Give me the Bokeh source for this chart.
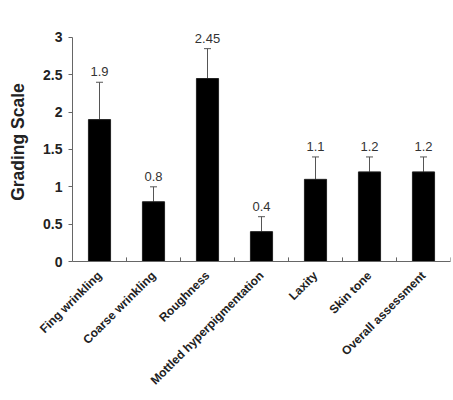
from math import pi
from bokeh.plotting import figure
from bokeh.core.properties import value
from bokeh.models import ColumnDataSource, Range1d, FixedTicker, Whisker, TeeHead, LabelSet
from bokeh.embed import file_html
from bokeh.resources import INLINE

# data
categories = ["Fing wrinkling", "Coarse wrinkling", "Roughness", "Mottled hyperpigmentation",
              "Laxity", "Skin tone", "Overall assessment"]
means = [1.9, 0.8, 2.45, 0.4, 1.1, 1.2, 1.2]
errors = [0.5, 0.2, 0.4, 0.2, 0.3, 0.2, 0.2]
value_labels = ["1.9", "0.8", "2.45", "0.4", "1.1", "1.2", "1.2"]
y_ticks = [0, 0.5, 1, 1.5, 2, 2.5, 3]
y_tick_labels = ["0", "0.5", "1", "1.5", "2", "2.5", "3"]

centers = [i + 0.5 for i in range(len(categories))]
source = ColumnDataSource(data=dict(
    x=centers,
    mean=means,
    upper=[m + e for m, e in zip(means, errors)],
    label=value_labels,
))

font = "Liberation Sans"
axis_gray = "#666666"

# y range runs a little past 3 so the top value label is not clipped;
# the axis line itself stops at 3
p = figure(width=453, height=400, x_range=Range1d(0, len(categories)), y_range=Range1d(0, 3.2),
           toolbar_location=None, tools="", output_backend="svg",
           min_border_left=72, min_border_right=3, min_border_top=22, min_border_bottom=139)

p.vbar(x="x", top="mean", bottom=0, width=0.41, source=source,
       fill_color="black", line_color="#222222")

whisker = Whisker(base="x", lower="mean", upper="upper", source=source,
                  line_color="#555555", line_width=1,
                  upper_head=TeeHead(size=7, line_color="#555555", line_width=1),
                  lower_head=None)
p.add_layout(whisker)

labels = LabelSet(x="x", y="upper", text="label", source=source, y_offset=6,
                  text_align="center", text_baseline="bottom",
                  text_font=value(font), text_font_size=value("13px"), text_color="#333333")
p.add_layout(labels)

# tick marks between categories, pointing up into the plot
bounds = list(range(len(categories) + 1))
p.segment(x0=bounds, x1=bounds, y0=[0] * len(bounds), y1=[0.055] * len(bounds),
          line_color=axis_gray, line_width=1)

p.xgrid.grid_line_color = None
p.ygrid.grid_line_color = None
p.outline_line_color = None
p.background_fill_color = "white"
p.border_fill_color = "white"

p.xaxis.ticker = FixedTicker(ticks=centers)
p.xaxis.major_label_overrides = {c: name for c, name in zip(centers, categories)}
p.xaxis.major_label_orientation = pi / 4
p.xaxis.major_tick_line_color = None
p.xaxis.minor_tick_line_color = None
p.xaxis.axis_line_color = axis_gray
p.xaxis.major_label_text_font = font
p.xaxis.major_label_text_font_style = "bold"
p.xaxis.major_label_text_font_size = "12px"
p.xaxis.major_label_text_color = "#222222"
p.xaxis.major_label_standoff = 6

p.yaxis.ticker = FixedTicker(ticks=y_ticks)
p.yaxis.bounds = (0, 3)
p.yaxis.major_label_overrides = {t: s for t, s in zip(y_ticks, y_tick_labels)}
p.yaxis.minor_tick_line_color = None
p.yaxis.major_tick_in = 0
p.yaxis.major_tick_out = 4
p.yaxis.major_tick_line_color = axis_gray
p.yaxis.axis_line_color = axis_gray
p.yaxis.major_label_text_font = font
p.yaxis.major_label_text_font_style = "bold"
p.yaxis.major_label_text_font_size = "14px"
p.yaxis.major_label_text_color = "#222222"
p.yaxis.major_label_standoff = 6
p.yaxis.axis_label = "Grading Scale"
p.yaxis.axis_label_text_font = font
p.yaxis.axis_label_text_font_style = "bold"
p.yaxis.axis_label_text_font_size = "17.5px"
p.yaxis.axis_label_text_color = "#222222"
p.yaxis.axis_label_standoff = 12

open("out.html", "w").write(file_html(p, INLINE))
